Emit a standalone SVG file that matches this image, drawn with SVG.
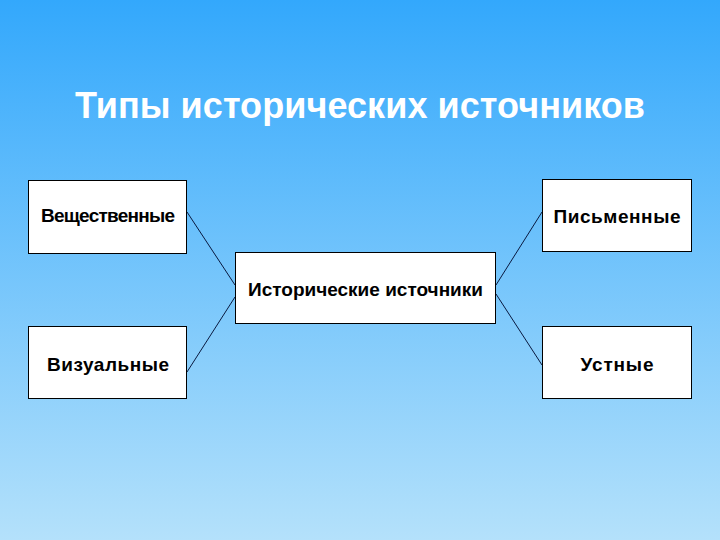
<svg xmlns="http://www.w3.org/2000/svg" width="720" height="540" viewBox="0 0 720 540">
<defs>
<linearGradient id="bg" x1="0" y1="0" x2="0" y2="1">
<stop offset="0" stop-color="#33a8fc"/>
<stop offset="1" stop-color="#b4e1fb"/>
</linearGradient>
<style>
.box{fill:#ffffff;stroke:#000000;stroke-width:1}
.lbl{font-family:"Liberation Sans",Arial,sans-serif;font-weight:bold;font-size:19px;fill:#000000;text-anchor:middle}
.con{stroke:#0a1a40;stroke-width:1;fill:none}
.title{font-family:"Liberation Sans",Arial,sans-serif;font-weight:bold;font-size:36px;fill:#ffffff;text-anchor:middle}
</style>
</defs>
<rect x="0" y="0" width="720" height="540" fill="url(#bg)"/>
<text class="title" x="360" y="118" textLength="570" lengthAdjust="spacing">Типы исторических источников</text>
<g id="connectors">
<line class="con" x1="187" y1="212" x2="235" y2="285"/>
<line class="con" x1="187" y1="372" x2="235" y2="297"/>
<line class="con" x1="542" y1="212" x2="496" y2="285"/>
<line class="con" x1="542" y1="365" x2="496" y2="294"/>
</g>
<g id="center">
<rect class="box" x="235.5" y="252.5" width="260" height="71"/>
<text class="lbl" x="365.5" y="296" font-size="18" textLength="235" lengthAdjust="spacing">Исторические источники</text>
</g>
<g id="veshchestvennye">
<rect class="box" x="28.5" y="180.5" width="158" height="73"/>
<text class="lbl" x="108" y="222" font-size="17" textLength="134" lengthAdjust="spacing">Вещественные</text>
</g>
<g id="pismennye">
<rect class="box" x="542.5" y="179.5" width="149" height="72"/>
<text class="lbl" x="617" y="223" textLength="127" lengthAdjust="spacing">Письменные</text>
</g>
<g id="vizualnye">
<rect class="box" x="28.5" y="326.5" width="158" height="72"/>
<text class="lbl" x="108" y="371" textLength="122" lengthAdjust="spacing">Визуальные</text>
</g>
<g id="ustnye">
<rect class="box" x="542.5" y="326.5" width="149" height="72"/>
<text class="lbl" x="617" y="371" textLength="73" lengthAdjust="spacing">Устные</text>
</g>
</svg>
